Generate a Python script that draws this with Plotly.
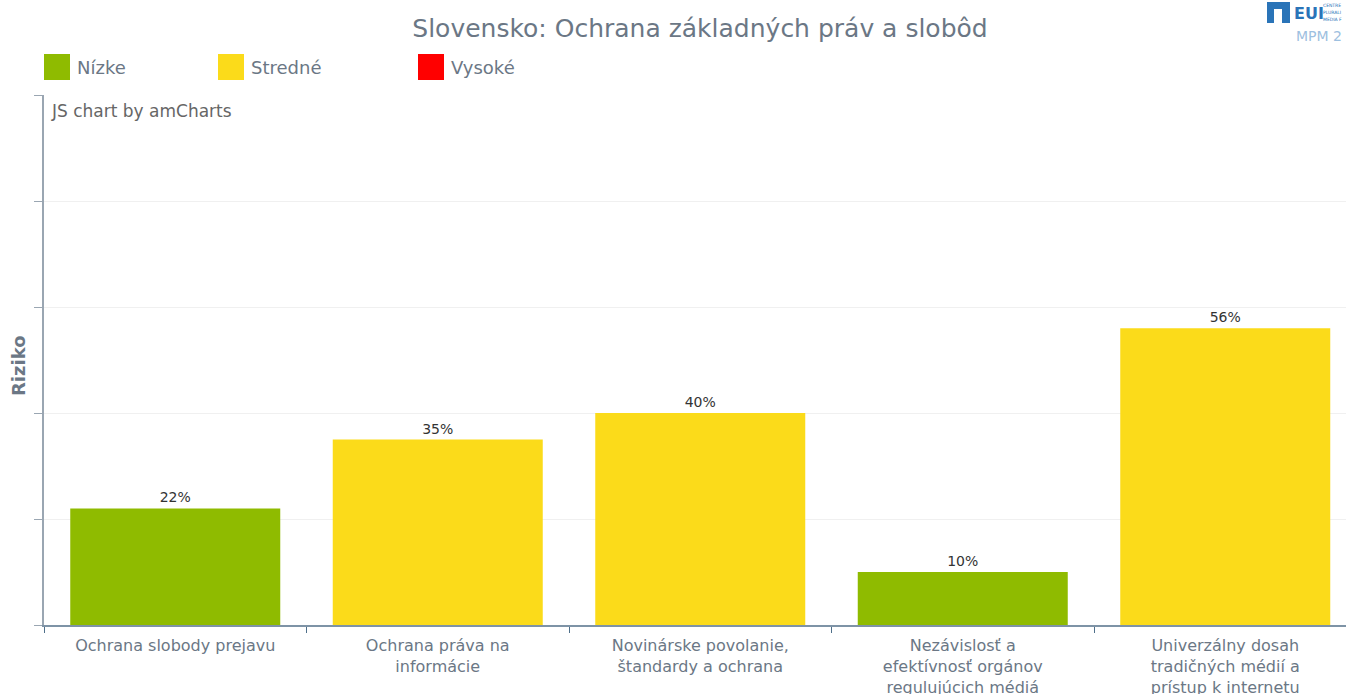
import plotly.graph_objects as go

categories = [
    "Ochrana slobody prejavu",
    "Ochrana práva na<br>informácie",
    "Novinárske povolanie,<br>štandardy a ochrana",
    "Nezávislosť a<br>efektívnosť orgánov<br>regulujúcich médiá",
    "Univerzálny dosah<br>tradičných médií a<br>prístup k internetu",
]
values = [22, 35, 40, 10, 56]
risk_levels = ["Nízke", "Stredné", "Stredné", "Nízke", "Stredné"]
legend_names = ["Nízke", "Stredné", "Vysoké"]
legend_colors = ["#8fbb00", "#fbdb1a", "#ff0000"]
y_ticks = [0, 20, 40, 60, 80, 100]
logo_small_lines = ["CENTRE", "PLURALI", "MEDIA F"]

FONT = "DejaVu Sans"
W, H = 1346, 694
L, R, T, B = 44, 0, 95, 69
PW, PH = W - L - R, H - T - B

def px(x):
    return (x - L) / PW

def py(y):
    return (H - B - y) / PH

fig = go.Figure()
for name, color in zip(legend_names, legend_colors):
    xs = [c for c, r in zip(categories, risk_levels) if r == name]
    ys = [v for v, r in zip(values, risk_levels) if r == name]
    fig.add_trace(go.Bar(
        x=xs, y=ys, name=name, marker_color=color,
        marker_line_width=0,
        width=0.8,
        texttemplate="%{y}%", textposition="outside",
        textfont=dict(family=FONT, size=14, color="#333333"),
        cliponaxis=False, showlegend=False,
    ))

shapes = []
annotations = []
leg_x = [44, 218, 418]
for (name, color, lx) in zip(legend_names, legend_colors, leg_x):
    shapes.append(dict(type="rect", xref="paper", yref="paper",
                       x0=px(lx), x1=px(lx + 26), y0=py(80), y1=py(54),
                       fillcolor=color, line=dict(width=0)))
    annotations.append(dict(text=name, xref="paper", yref="paper",
                            x=px(lx + 31), y=py(67), xanchor="left", yanchor="middle",
                            showarrow=False,
                            font=dict(family=FONT, size=18, color="#6b7785")))

annotations.append(dict(text="JS chart by amCharts", xref="paper", yref="paper",
                        x=px(49), y=py(111), xanchor="left", yanchor="middle",
                        showarrow=False, font=dict(family=FONT, size=17, color="#666666")))
annotations.append(dict(text="<b>Riziko</b>", xref="paper", yref="paper",
                        x=px(18), y=py(366), xanchor="center", yanchor="middle",
                        textangle=-90, showarrow=False,
                        font=dict(family=FONT, size=18, color="#6b7785")))
# logo
shapes.append(dict(type="rect", xref="paper", yref="paper",
                   x0=px(1267), x1=px(1290), y0=py(23), y1=py(2),
                   fillcolor="#2a74b8", line=dict(width=0)))
shapes.append(dict(type="rect", xref="paper", yref="paper",
                   x0=px(1274), x1=px(1282), y0=py(23), y1=py(9),
                   fillcolor="white", line=dict(width=0)))
annotations.append(dict(text="<b>EUI</b>", xref="paper", yref="paper",
                        x=px(1292), y=py(13), xanchor="left", yanchor="middle",
                        showarrow=False, font=dict(family=FONT, size=16, color="#2a74b8")))
for i, line in enumerate(logo_small_lines):
    annotations.append(dict(text=line, xref="paper", yref="paper",
                            x=px(1321), y=py(5 + 7.5 * i), xanchor="left", yanchor="middle",
                            showarrow=False, align="left",
                            font=dict(family=FONT, size=4.5, color="#2a74b8")))
annotations.append(dict(text="MPM 2", xref="paper", yref="paper",
                        x=px(1294), y=py(36), xanchor="left", yanchor="middle",
                        showarrow=False, font=dict(family=FONT, size=14, color="#9dc0e0")))

fig.update_layout(
    width=W, height=H,
    margin=dict(l=L, r=R, t=T, b=B),
    paper_bgcolor="white", plot_bgcolor="white",
    barmode="overlay",
    title=dict(text="Slovensko: Ochrana základných práv a slobôd",
               x=700 / W, xref="container", xanchor="center",
               y=1 - 28 / H, yref="container", yanchor="middle",
               font=dict(family=FONT, size=25, color="#6b7785")),
    showlegend=False,
    shapes=shapes,
    annotations=annotations,
    xaxis=dict(
        categoryorder="array", categoryarray=categories,
        range=[-0.5, -0.5 + PW / 262.5],
        showline=True, linecolor="#7e93a6", linewidth=1.5,
        ticks="outside", tickson="boundaries", ticklen=6, tickcolor="#4f6f8a",
        ticklabelstandoff=5, automargin=False,
        tickfont=dict(family=FONT, size=16, color="#6b7785"),
        showgrid=False, zeroline=False,
    ),
    yaxis=dict(
        range=[0, 100], tickvals=y_ticks, showticklabels=False,
        showline=True, linecolor="#9aa6b2", linewidth=1.5,
        ticks="outside", ticklen=8, tickcolor="#9aa6b2",
        showgrid=True, gridcolor="#f0f0f0", gridwidth=1,
        zeroline=False, automargin=False,
    ),
)

fig.write_html(
    "out.html",
    config={"displayModeBar": False},
    post_script="document.body.style.margin='0';document.body.style.overflow='hidden';",
)
